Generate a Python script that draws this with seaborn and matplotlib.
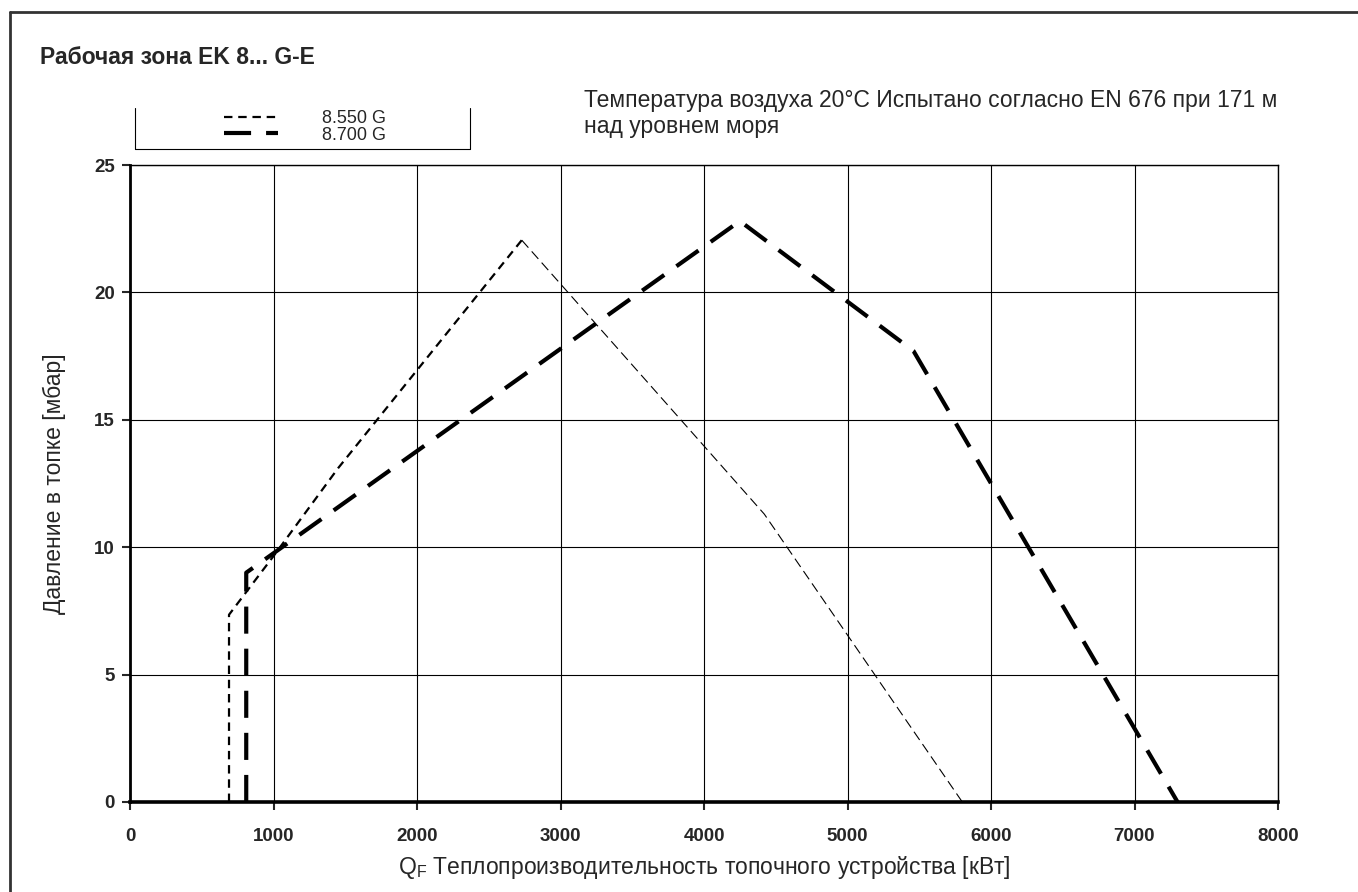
import matplotlib
matplotlib.use("Agg")
import matplotlib.pyplot as plt
from matplotlib.lines import Line2D
import pandas as pd
import seaborn as sns

# values
x_8550 = [690, 690, 1000, 1450, 2730, 4420, 5800]
y_8550 = [0, 7.35, 9.65, 13.1, 22.05, 11.3, 0]
peak_8550 = 4  # thin line turns down here (drawn finer after the peak)
x_8700 = [810, 810, 4250, 5460, 7300]
y_8700 = [0, 9.0, 22.8, 17.7, 0]
series_labels = ["8.550 G", "8.700 G"]
x_ticks = [0, 1000, 2000, 3000, 4000, 5000, 6000, 7000, 8000]
y_ticks = [0, 5, 10, 15, 20, 25]

title = "Рабочая зона EK 8... G-E"
note_1 = "Температура воздуха 20°C Испытано согласно EN 676 при 171 м"
note_2 = "над уровнем моря"
xlabel = r"Q$_\mathregular{F}$ Теплопроизводительность топочного устройства [кВт]"
ylabel = "Давление в топке [мбар]"

sns.set_style("white")
plt.rcParams["font.family"] = ["Liberation Sans", "DejaVu Sans"]

W, H = 1358, 892
fig = plt.figure(figsize=(W / 100, H / 100), dpi=100)
ax = fig.add_axes([130 / W, 1 - 802 / H, 1148 / W, 637 / H])

up = pd.DataFrame({"x": x_8550[:peak_8550 + 1], "y": y_8550[:peak_8550 + 1]})
down = pd.DataFrame({"x": x_8550[peak_8550:], "y": y_8550[peak_8550:]})
thick = pd.DataFrame({"x": x_8700, "y": y_8700})

sns.lineplot(data=up, x="x", y="y", sort=False, estimator=None, ax=ax, legend=False,
             color="black", lw=1.6, linestyle=(0, (3.8, 2.6)), label=series_labels[0])
sns.lineplot(data=down, x="x", y="y", sort=False, estimator=None, ax=ax, legend=False,
             color="black", lw=0.8, linestyle=(0, (9, 4.5)), label="_nolegend_")
sns.lineplot(data=thick, x="x", y="y", sort=False, estimator=None, ax=ax, legend=False,
             color="black", lw=3.0, linestyle=(0, (6.5, 3.6)), label=series_labels[1])

ax.set_xlim(0, 8000)
ax.set_ylim(0, 25)
ax.set_xticks(x_ticks)
ax.set_yticks(y_ticks)
ax.grid(True, color="black", lw=0.8)
ax.set_axisbelow(True)
for side in ["top", "right"]:
    ax.spines[side].set_linewidth(1.0)
    ax.spines[side].set_color("black")
ax.spines["left"].set_linewidth(2.0)
ax.spines["bottom"].set_linewidth(2.6)
ax.spines["left"].set_color("black")
ax.spines["bottom"].set_color("black")
ax.tick_params(axis="y", direction="out", length=6, width=1.5, left=True, pad=5, labelsize=13.5)
ax.tick_params(axis="x", direction="out", length=6, width=1.5, bottom=True, pad=13, labelsize=13.5)
for lab in ax.get_xticklabels() + ax.get_yticklabels():
    lab.set_fontweight("bold")

ax.set_xlabel(xlabel, fontsize=16.5, labelpad=6)
ax.set_ylabel(ylabel, fontsize=16.5, labelpad=20)

fig.text(40 / W, 1 - 58 / H, title, fontsize=16.5, fontweight="bold", va="center")
fig.text(584 / W, 1 - 101 / H, note_1, fontsize=16.5, va="center")
fig.text(584 / W, 1 - 127 / H, note_2, fontsize=16.5, va="center")

# legend box (open at the top as in the reference)
handles, labels = ax.get_legend_handles_labels()
fig.legend(handles, labels, loc="center left", bbox_to_anchor=(224 / W, 1 - 127 / H),
           frameon=False, fontsize=13, handlelength=3.0, handletextpad=2.4,
           labelspacing=-0.05, borderpad=0, borderaxespad=0)
bx0, bx1, by0, by1 = 135 / W, 470 / W, 1 - 108 / H, 1 - 149 / H
for xs, ys in [([bx0, bx0], [by0, by1]), ([bx0, bx1], [by1, by1]), ([bx1, bx1], [by0, by1])]:
    fig.add_artist(Line2D(xs, ys, transform=fig.transFigure, color="black", lw=0.8))

# outer frame
fig.add_artist(Line2D([10 / W, 10 / W], [0, 1 - 12 / H], transform=fig.transFigure, color="#333333", lw=2))
fig.add_artist(Line2D([10 / W, 1], [1 - 12 / H, 1 - 12 / H], transform=fig.transFigure, color="#333333", lw=2))

fig.savefig("out.png", dpi=100)
